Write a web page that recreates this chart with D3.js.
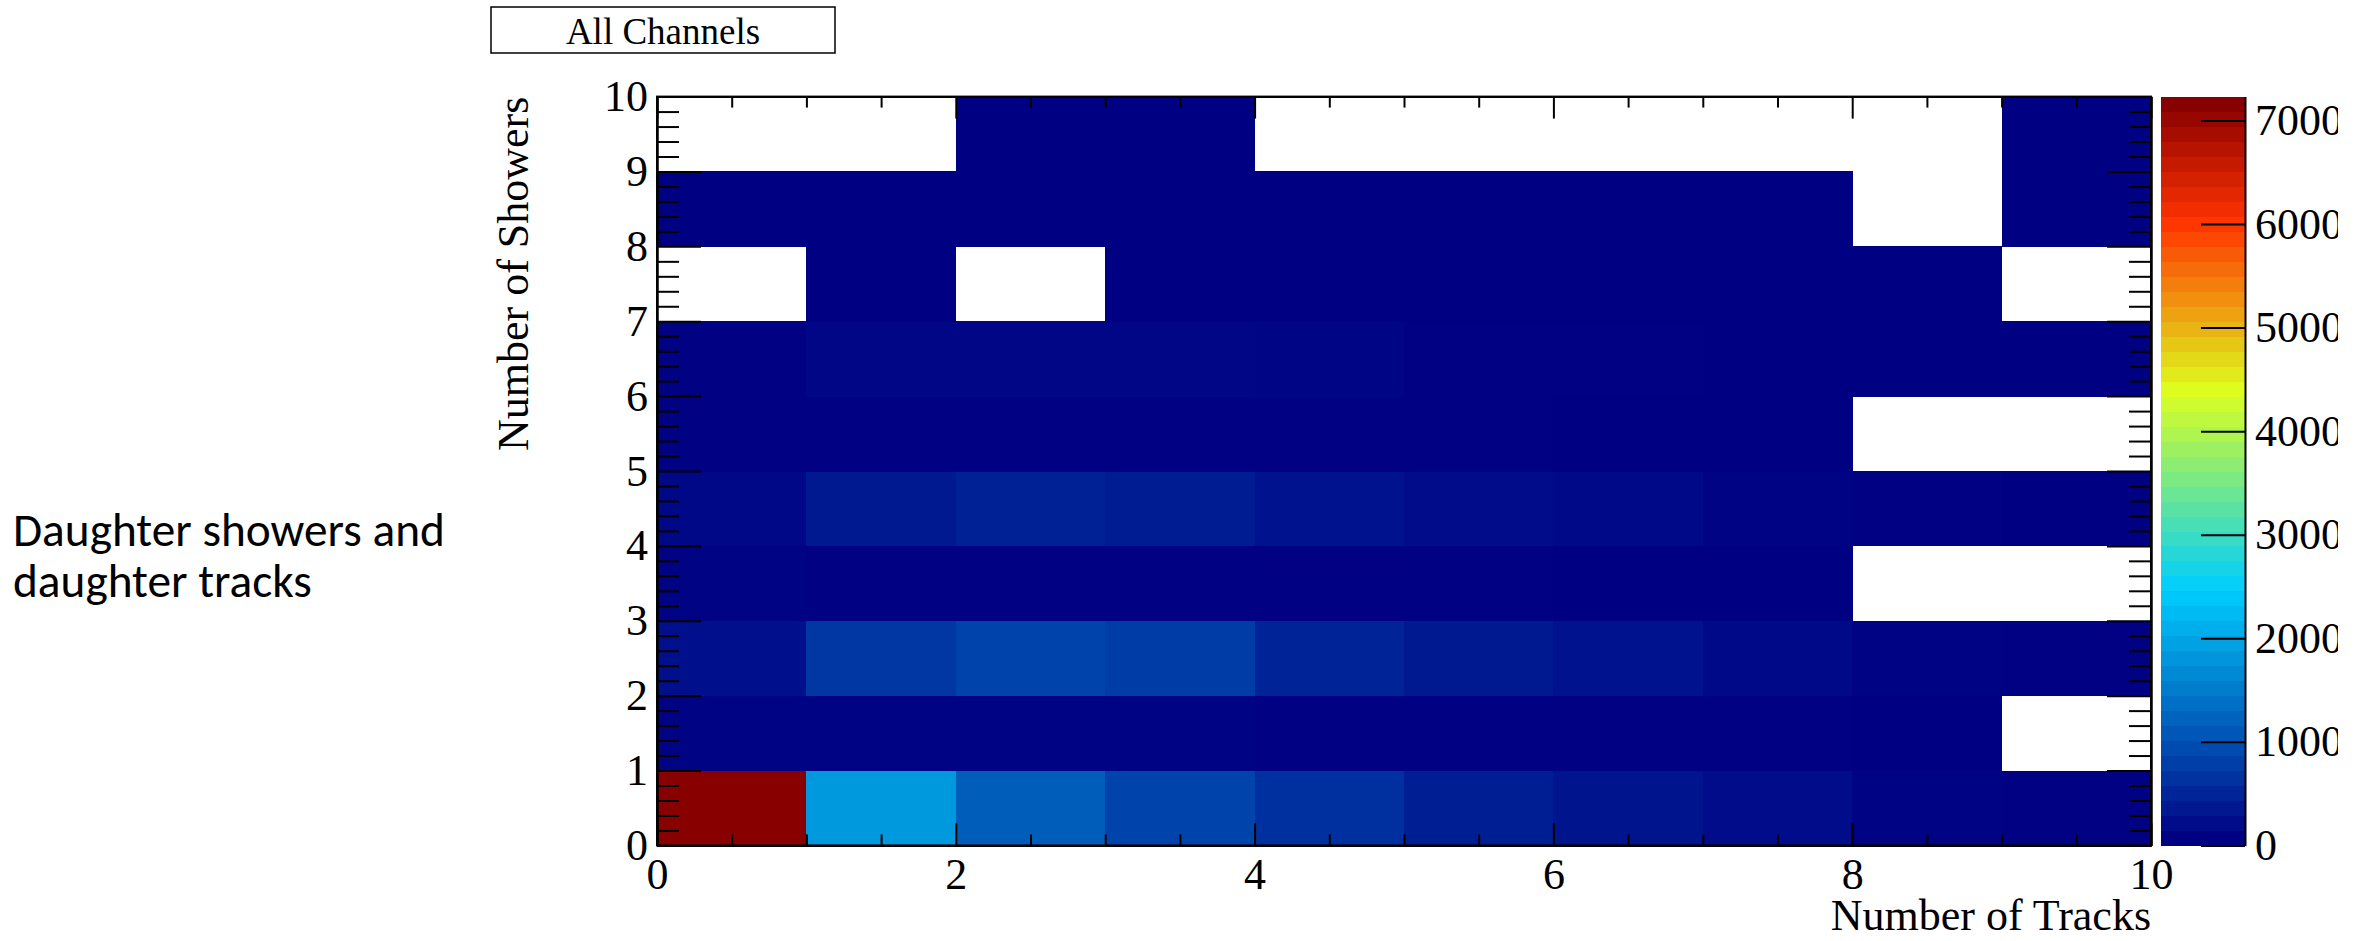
<!DOCTYPE html>
<html><head><meta charset="utf-8">
<script src="https://cdn.jsdelivr.net/npm/d3@7"></script>
<style>body{margin:0;background:#fff;overflow:hidden}</style>
</head><body>
<svg id="c" width="2367" height="941"></svg>
<script>
// ---- data ----
const trackBins = [0,1,2,3,4,5,6,7,8,9];          // lower edges, Number of Tracks
const showerBins = [0,1,2,3,4,5,6,7,8,9];         // lower edges, Number of Showers
// counts per showers row (index = tracks bin); null = empty bin
const showers0 = [7230, 1815, 1100, 805, 570, 355, 235, 140, 30, 10];
const showers1 = [45, 40, 35, 30, 25, 20, 15, 10, 5, null];
const showers2 = [178, 652, 806, 712, 415, 297, 213, 119, 30, 10];
const showers3 = [30, 25, 25, 20, 15, 10, 8, 5, null, null];
const showers4 = [95, 297, 380, 332, 213, 142, 119, 40, 20, 8];
const showers5 = [20, 18, 16, 14, 12, 10, 8, 5, null, null];
const showers6 = [20, 70, 75, 70, 65, 15, 10, 8, 5, 3];
const showers7 = [null, 5, null, 4, 4, 3, 3, 2, 2, null];
const showers8 = [3, 3, 3, 3, 2, 2, 2, 2, null, 1];
const showers9 = [null, null, 1, 1, null, null, null, null, null, 1];
const rows = [showers0, showers1, showers2, showers3, showers4, showers5, showers6, showers7, showers8, showers9];
const xMajorTicks = [0, 2, 4, 6, 8, 10];
const yMajorTicks = [0, 1, 2, 3, 4, 5, 6, 7, 8, 9, 10];
const zTicks = [0, 1000, 2000, 3000, 4000, 5000, 6000, 7000];
const titleText = "All Channels";
const xTitle = "Number of Tracks";
const yTitle = "Number of Showers";
const sideText = ["Daughter showers and", "daughter tracks"];

// ---- layout ----
const svg = d3.select('#c');
const L = 657, R = 2151, T = 96.6, B = 845.4;
const x = d3.scaleLinear().domain([0, 10]).range([L, R]);
const y = d3.scaleLinear().domain([0, 10]).range([B, T]);
const zmax = d3.max(rows.flat().filter(v => v != null));
const stops = [0, 0.34, 0.61, 0.84, 1];
const palCols = ['rgb(0,0,130)', 'rgb(0,207,255)', 'rgb(222,255,31)', 'rgb(255,51,0)', 'rgb(136,0,0)'];
const color = d3.scaleLinear().domain(stops.map(s => s * zmax)).range(palCols)
  .interpolate(d3.interpolateRgb).clamp(true);
const serif = "'Liberation Serif','Times New Roman',serif";

// cells
const cells = [];
rows.forEach((r, i) => r.forEach((v, j) => { if (v != null) cells.push({ tx: trackBins[j], sy: showerBins[i], v }); }));
svg.append('g').selectAll('rect').data(cells).join('rect')
  .attr('x', d => x(d.tx)).attr('y', d => y(d.sy + 1))
  .attr('width', d => x(d.tx + 1) - x(d.tx) + 0.5)
  .attr('height', d => y(d.sy) - y(d.sy + 1) + 0.5)
  .attr('fill', d => color(d.v))
  .attr('shape-rendering', 'crispEdges');

// axes
function styleAxis(g) {
  g.selectAll('path').attr('stroke', '#000').attr('stroke-width', 2);
  g.selectAll('line').attr('stroke', '#000').attr('stroke-width', 2);
  g.selectAll('text').attr('font-family', serif).attr('font-size', 44).attr('fill', '#000');
  g.attr('font-family', null).attr('font-size', null);
}
const xMinor = d3.range(0, 10.001, 0.5).filter(v => v % 2 !== 0);
const yMinor = d3.range(0, 50).map(k => k * 0.2).filter(v => Math.abs(v - Math.round(v)) > 1e-6);

// bottom
svg.append('g').attr('transform', `translate(0,${B})`)
  .call(d3.axisBottom(x).tickValues(xMajorTicks).tickSize(-22).tickSizeOuter(0).tickPadding(12).tickFormat(d3.format('d')))
  .call(styleAxis);
svg.append('g').attr('transform', `translate(0,${B})`)
  .call(d3.axisBottom(x).tickValues(xMinor).tickSize(-11).tickSizeOuter(0).tickFormat(''))
  .call(styleAxis);
// top
svg.append('g').attr('transform', `translate(0,${T})`)
  .call(d3.axisTop(x).tickValues(xMajorTicks).tickSize(-22).tickSizeOuter(0).tickFormat(''))
  .call(styleAxis);
svg.append('g').attr('transform', `translate(0,${T})`)
  .call(d3.axisTop(x).tickValues(xMinor).tickSize(-11).tickSizeOuter(0).tickFormat(''))
  .call(styleAxis);
// left
svg.append('g').attr('transform', `translate(${L},0)`)
  .call(d3.axisLeft(y).tickValues(yMajorTicks).tickSize(-44).tickSizeOuter(0).tickPadding(9).tickFormat(d3.format('d')))
  .call(styleAxis);
svg.append('g').attr('transform', `translate(${L},0)`)
  .call(d3.axisLeft(y).tickValues(yMinor).tickSize(-22).tickSizeOuter(0).tickFormat(''))
  .call(styleAxis);
// right
svg.append('g').attr('transform', `translate(${R},0)`)
  .call(d3.axisRight(y).tickValues(yMajorTicks).tickSize(-44).tickSizeOuter(0).tickFormat(''))
  .call(styleAxis);
svg.append('g').attr('transform', `translate(${R},0)`)
  .call(d3.axisRight(y).tickValues(yMinor).tickSize(-22).tickSizeOuter(0).tickFormat(''))
  .call(styleAxis);

// frame
svg.append('rect').attr('x', L).attr('y', T).attr('width', R - L).attr('height', B - T)
  .attr('fill', 'none').attr('stroke', '#000').attr('stroke-width', 2);

// colour bar
const CB0 = 2161, CB1 = 2245;
const z = d3.scaleLinear().domain([0, zmax]).range([B, T]);
const nCont = 50;
const bands = d3.range(nCont).map(k => ({ lo: k * zmax / nCont, hi: (k + 1) * zmax / nCont, c: color(k / (nCont - 1) * zmax) }));
svg.append('g').selectAll('rect').data(bands).join('rect')
  .attr('x', CB0).attr('width', CB1 - CB0)
  .attr('y', d => z(d.hi)).attr('height', d => z(d.lo) - z(d.hi) + 0.6)
  .attr('fill', d => d.c).attr('shape-rendering', 'crispEdges');
svg.append('defs').append('clipPath').attr('id', 'cbclip')
  .append('rect').attr('x', 2100).attr('y', 0).attr('width', 238).attr('height', 941);
svg.append('g').attr('clip-path', 'url(#cbclip)').append('g').attr('transform', `translate(${CB1},0)`)
  .call(d3.axisRight(z).tickValues(zTicks).tickSize(-44).tickSizeOuter(0).tickPadding(10).tickFormat(d3.format('d')))
  .call(styleAxis);

// axis titles
svg.append('text').attr('x', R).attr('y', 930).attr('text-anchor', 'end')
  .attr('font-family', serif).attr('font-size', 44).text(xTitle);
svg.append('text').attr('transform', `translate(528,${T}) rotate(-90)`).attr('text-anchor', 'end')
  .attr('font-family', serif).attr('font-size', 44).text(yTitle);

// title box
svg.append('rect').attr('x', 491).attr('y', 7).attr('width', 344).attr('height', 46)
  .attr('fill', '#fff').attr('stroke', '#000').attr('stroke-width', 1.5);
svg.append('text').attr('x', 663).attr('y', 44).attr('text-anchor', 'middle')
  .attr('font-family', serif).attr('font-size', 37).text(titleText);

// side annotation (one text block, two lines)
const sideFont = "Carlito, Calibri, Lato, 'Open Sans', sans-serif";
const st = svg.append('text').attr('x', 13).attr('y', 546)
  .attr('font-family', sideFont).attr('font-size', 42).attr('fill', '#000');
const sp1 = st.append('tspan').attr('x', 13).attr('y', 546).text(sideText[0]);
const w = sp1.node().getComputedTextLength();
const fs = 42 * 432 / w;
st.attr('font-size', fs);
st.append('tspan').attr('x', 13).attr('y', 597).text(sideText[1]);
</script>
</body></html>
